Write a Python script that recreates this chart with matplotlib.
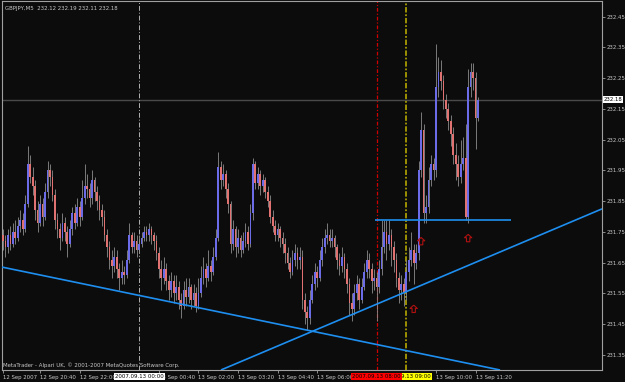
import matplotlib.pyplot as plt
from matplotlib import font_manager
from matplotlib.path import Path
from matplotlib.transforms import blended_transform_factory

# GBPJPY M5 bars, 12 Sep 19:25 .. 13 Sep 11:25
opens = [231.74, 231.72, 231.70, 231.74, 231.71, 231.75, 231.73, 231.77, 231.79, 231.76,
         231.84, 231.97, 231.93, 231.90, 231.82, 231.78, 231.84, 231.80, 231.88, 231.95,
         231.93, 231.87, 231.79, 231.76, 231.73, 231.78, 231.75, 231.71, 231.76, 231.81,
         231.78, 231.83, 231.80, 231.86, 231.90, 231.89, 231.86, 231.92, 231.88, 231.85,
         231.82, 231.80, 231.74, 231.70, 231.66, 231.64, 231.67, 231.63, 231.60, 231.62,
         231.61, 231.66, 231.74, 231.70, 231.72, 231.69, 231.71, 231.73, 231.75, 231.74,
         231.76, 231.74, 231.72, 231.68, 231.63, 231.60, 231.63, 231.59, 231.56, 231.59,
         231.55, 231.57, 231.53, 231.51, 231.56, 231.54, 231.57, 231.53, 231.55, 231.51,
         231.55, 231.60, 231.63, 231.60, 231.64, 231.62, 231.67, 231.73, 231.96, 231.92,
         231.94, 231.89, 231.84, 231.71, 231.76, 231.70, 231.73, 231.69, 231.72, 231.75,
         231.71, 231.81, 231.97, 231.91, 231.94, 231.90, 231.92, 231.88, 231.85, 231.80,
         231.77, 231.74, 231.76, 231.73, 231.71, 231.68, 231.65, 231.62, 231.66, 231.68,
         231.66, 231.67, 231.53, 231.49, 231.47, 231.53, 231.58, 231.62, 231.60, 231.66,
         231.70, 231.73, 231.74, 231.72, 231.73, 231.70, 231.66, 231.64, 231.67, 231.63,
         231.58, 231.52, 231.50, 231.55, 231.58, 231.53, 231.57, 231.62, 231.66, 231.63,
         231.59, 231.60, 231.57, 231.63, 231.70, 231.75, 231.71, 231.74, 231.70, 231.66,
         231.60, 231.56, 231.58, 231.55, 231.62, 231.66, 231.69, 231.65, 231.68, 231.95,
         232.08, 231.81, 231.83, 231.92, 231.97, 231.95, 232.22, 232.27, 232.24, 232.18,
         232.15, 232.11, 232.07, 232.00, 231.97, 231.93, 231.97, 231.99, 231.80, 232.22,
         232.27, 232.25, 232.12]
highs = [231.76, 231.74, 231.76, 231.77, 231.78, 231.79, 231.80, 231.82, 231.81, 231.87,
         232.03, 232.00, 231.96, 231.92, 231.85, 231.87, 231.86, 231.91, 231.98, 231.97,
         231.95, 231.89, 231.81, 231.78, 231.81, 231.80, 231.77, 231.79, 231.83, 231.84,
         231.86, 231.85, 231.92, 231.97, 231.94, 231.91, 231.95, 231.93, 231.90, 231.87,
         231.84, 231.82, 231.76, 231.72, 231.69, 231.70, 231.69, 231.65, 231.66, 231.64,
         231.69, 231.78, 231.75, 231.75, 231.74, 231.74, 231.75, 231.77, 231.77, 231.78,
         231.77, 231.75, 231.74, 231.70, 231.66, 231.67, 231.65, 231.61, 231.62, 231.61,
         231.61, 231.59, 231.55, 231.59, 231.60, 231.60, 231.58, 231.58, 231.57, 231.60,
         231.64, 231.67, 231.65, 231.69, 231.66, 231.70, 231.76, 232.01, 231.98, 231.97,
         231.95, 231.91, 231.85, 231.79, 231.77, 231.76, 231.74, 231.75, 231.78, 231.77,
         231.84, 231.99, 231.98, 231.96, 231.95, 231.94, 231.93, 231.90, 231.87, 231.82,
         231.79, 231.78, 231.77, 231.75, 231.73, 231.70, 231.67, 231.69, 231.71, 231.70,
         231.70, 231.69, 231.55, 231.51, 231.56, 231.61, 231.65, 231.64, 231.69, 231.73,
         231.76, 231.78, 231.76, 231.76, 231.74, 231.71, 231.68, 231.70, 231.68, 231.65,
         231.60, 231.55, 231.58, 231.61, 231.60, 231.60, 231.65, 231.69, 231.68, 231.65,
         231.63, 231.62, 231.66, 231.79, 231.79, 231.79, 231.79, 231.76, 231.72, 231.68,
         231.62, 231.61, 231.60, 231.66, 231.70, 231.75, 231.71, 231.71, 231.98, 232.14,
         232.10, 231.87, 231.96, 232.00, 231.99, 232.36, 232.32, 232.31, 232.26, 232.20,
         232.17, 232.13, 232.09, 232.04, 232.00, 232.05, 232.06, 232.10, 232.28, 232.30,
         232.30, 232.27, 232.19]
lows = [231.69, 231.67, 231.68, 231.69, 231.70, 231.71, 231.72, 231.75, 231.74, 231.75,
        231.83, 231.91, 231.87, 231.79, 231.75, 231.77, 231.77, 231.79, 231.86, 231.90,
        231.85, 231.76, 231.73, 231.69, 231.72, 231.72, 231.67, 231.70, 231.74, 231.76,
        231.77, 231.77, 231.79, 231.84, 231.86, 231.83, 231.84, 231.85, 231.82, 231.79,
        231.77, 231.72, 231.67, 231.63, 231.60, 231.62, 231.60, 231.56, 231.58, 231.58,
        231.60, 231.65, 231.68, 231.68, 231.67, 231.68, 231.70, 231.72, 231.72, 231.72,
        231.71, 231.69, 231.66, 231.60, 231.56, 231.58, 231.56, 231.53, 231.54, 231.52,
        231.53, 231.50, 231.47, 231.50, 231.51, 231.52, 231.50, 231.51, 231.49, 231.50,
        231.54, 231.58, 231.57, 231.59, 231.59, 231.61, 231.66, 231.72, 231.89, 231.90,
        231.86, 231.81, 231.68, 231.69, 231.67, 231.68, 231.67, 231.68, 231.70, 231.69,
        231.70, 231.79, 231.89, 231.89, 231.87, 231.88, 231.86, 231.83, 231.78, 231.75,
        231.72, 231.72, 231.70, 231.68, 231.65, 231.63, 231.60, 231.61, 231.64, 231.63,
        231.63, 231.50, 231.45, 231.43, 231.45, 231.52, 231.56, 231.57, 231.59, 231.64,
        231.68, 231.71, 231.70, 231.70, 231.67, 231.63, 231.61, 231.62, 231.60, 231.55,
        231.48, 231.46, 231.48, 231.53, 231.50, 231.52, 231.56, 231.60, 231.60, 231.55,
        231.56, 231.46, 231.55, 231.61, 231.68, 231.66, 231.69, 231.64, 231.62, 231.57,
        231.52, 231.53, 231.51, 231.53, 231.59, 231.64, 231.58, 231.63, 231.66, 231.93,
        231.78, 231.78, 231.81, 231.90, 231.92, 231.93, 232.19, 232.21, 232.15, 232.12,
        232.08, 232.03, 231.97, 231.92, 231.90, 231.91, 231.95, 231.79, 231.78, 232.19,
        232.21, 232.02, 232.11]
closes = opens[1:] + [232.18]

tick_bars = [0, 15, 31, 63, 79, 95, 111, 127, 175, 191]
tick_labels = ["12 Sep 2007", "12 Sep 20:40", "12 Sep 22:00", "13 Sep 00:40", "13 Sep 02:00",
               "13 Sep 03:20", "13 Sep 04:40", "13 Sep 06:00", "13 Sep 10:00", "13 Sep 11:20"]
price_ticks = [232.45, 232.35, 232.25, 232.15, 232.05, 231.95, 231.85, 231.75, 231.65, 231.55, 231.45, 231.35]

sep_bar, sep_label = 55, "2007.09.13 00:00"
red_bar, red_label = 151, "2007.09.13 08:00"
yel_bar, yel_label = 163, "2007.09.13 09:00"
bid = 232.18

signal_bars = [169, 188, 166]
signal_prices = [231.72, 231.73, 231.50]

trend_down_x, trend_down_y = [-1.2, 200.9], [231.637, 231.301]
trend_up_x, trend_up_y = [88.1, 242.1], [231.301, 231.825]
level_x, level_y = [150.4, 205.3], [231.79, 231.79]

bg = '#0c0c0c'
grey = '#a0a0a0'
txt = '#c8c8c8'

# narrow font if there is one, otherwise a smaller DejaVu
fm = font_manager.fontManager.ttflist
if any(f.name == 'Liberation Sans Narrow' for f in fm):
    font = dict(family=['Liberation Sans Narrow', 'DejaVu Sans'], fontsize=4.8)
elif any(f.name == 'DejaVu Sans' and f.stretch == 'condensed' for f in fm):
    font = dict(family=['DejaVu Sans'], fontstretch='condensed', fontsize=4.3)
else:
    font = dict(family=['DejaVu Sans'], fontsize=3.8)

fig = plt.figure(figsize=(6.25, 3.82), dpi=100)
fig.patch.set_facecolor(bg)
ax = fig.add_axes([2 / 625, 12 / 382, 600 / 625, 369 / 382])
ax.set_facecolor(bg)

# candles
n = len(closes)
xs = list(range(n))
ax.vlines(xs, lows, highs, color='#8c8c8c', lw=0.6, zorder=2)
for i in range(n):
    o, c = opens[i], closes[i]
    col = '#6c6ce8' if c >= o else '#e07272'
    h = max(abs(c - o), 0.004)
    ax.bar(i, h, bottom=min(o, c), width=0.7, color=col, lw=0, zorder=3)

# lines
ax.axhline(bid, color='#4a4a4a', lw=1.0, zorder=1)
ax.axvline(sep_bar, color='#b0b0b0', lw=0.7, dashes=(5, 2, 1, 2), zorder=1)
ax.axvline(red_bar, color='#d00000', lw=0.9, dashes=(3, 1.5, 1, 1.5), zorder=1)
ax.axvline(yel_bar, color='#a89c00', lw=1.3, dashes=(3, 1, 1, 1), zorder=1)
for lx, ly in [(trend_down_x, trend_down_y), (trend_up_x, trend_up_y), (level_x, level_y)]:
    ax.plot(lx, ly, color='#1e8ff0', lw=1.2, zorder=4, solid_capstyle='butt')

arrow = Path([(0, 1), (-1, 0.1), (-0.45, 0.1), (-0.45, -1), (0.45, -1), (0.45, 0.1), (1, 0.1), (0, 1)])
ax.scatter(signal_bars, signal_prices, marker=arrow, s=28, facecolors='none',
           edgecolors='#b01010', linewidths=0.8, zorder=5)

ax.set_xlim(-0.4, 242.1)
ax.set_ylim(231.301, 232.501)

for s in ax.spines.values():
    s.set_color(grey)
    s.set_linewidth(0.8)

ax.yaxis.tick_right()
ax.set_yticks(price_ticks)
ax.set_yticklabels([f"{p:.2f}" for p in price_ticks], color=txt, **font)
ax.set_xticks(tick_bars)
ax.set_xticklabels(tick_labels, color=txt, ha='left', **font)
ax.tick_params(axis='both', colors=grey, length=2, width=0.6, pad=1.5)
for t in ax.get_yticklabels() + ax.get_xticklabels():
    t.set_color(txt)

tb = blended_transform_factory(ax.transData, ax.transAxes)
lab_y = -0.018
for b, lab, fc in [(sep_bar, sep_label, 'white'), (yel_bar, yel_label, '#ffff00'), (red_bar, red_label, '#ff0000')]:
    ax.text(b, lab_y, lab, transform=tb, ha='center', va='center', color='black',
            clip_on=False, zorder=10, bbox=dict(boxstyle='square,pad=0.2', fc=fc, ec='none'), **font)

ta = blended_transform_factory(ax.transAxes, ax.transData)
ax.text(1.003, bid, "232.18", transform=ta, ha='left', va='center', color='black', clip_on=False,
        bbox=dict(boxstyle='square,pad=0.15', fc='white', ec='none'), **font)

ax.text(0.005, 0.981, "GBPJPY,M5  232.12 232.19 232.11 232.18", transform=ax.transAxes,
        ha='left', va='center', color=txt, **font)
ax.text(0.002, 0.012, "MetaTrader - Alpari UK, © 2001-2007 MetaQuotes Software Corp.",
        transform=ax.transAxes, ha='left', va='center', color=txt, **font)

fig.savefig('out.png', dpi=100, facecolor=bg)
